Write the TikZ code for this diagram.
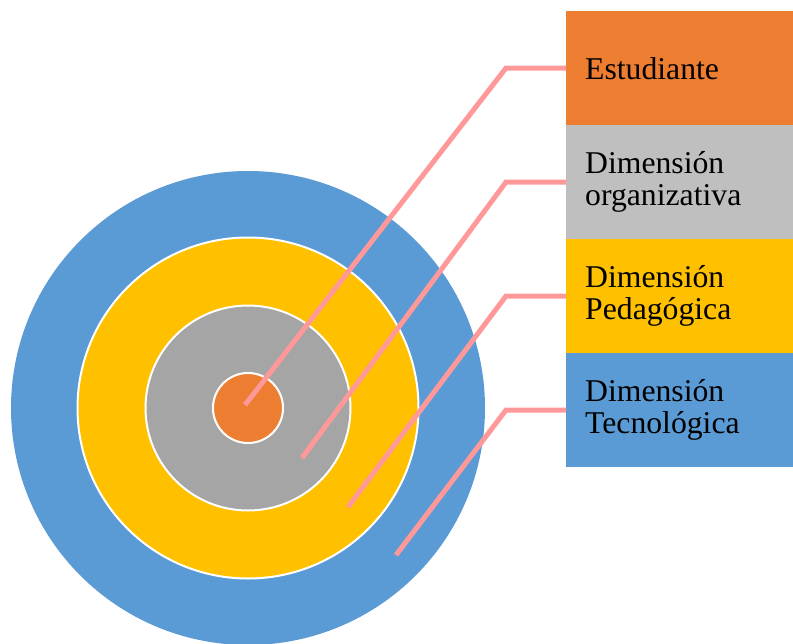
\documentclass[tikz,border=0pt]{standalone}
\usepackage{fontspec}
\setmainfont{Liberation Serif}
\definecolor{cblue}{HTML}{5B9BD5}
\definecolor{cyellow}{HTML}{FFC000}
\definecolor{cgray}{HTML}{A5A5A5}
\definecolor{cgraybox}{HTML}{BFBFBF}
\definecolor{corange}{HTML}{ED7D31}
\definecolor{cpink}{HTML}{FF9999}
\tikzset{
  ring/.style={circle, draw=white, line width=2pt, inner sep=0pt},
  labelbox/.style={rectangle, draw=none, minimum width=227pt, minimum height=114pt,
    text width=189pt, inner xsep=19pt, inner ysep=0pt, align=left,
    font=\fontsize{31.7}{32}\selectfont},
  leader/.style={draw=cpink, line width=5pt, line join=miter}
}
\begin{document}
\begin{tikzpicture}[x=1pt,y=-1pt]
\useasboundingbox (0,0) rectangle (793,643);
\node[ring, fill=cblue, draw=none, minimum size=474pt] (c4) at (248,408) {};
\node[ring, fill=cyellow, minimum size=341pt] (c3) at (248,408) {};
\node[ring, fill=cgray, minimum size=205pt] (c2) at (248,408) {};
\node[ring, fill=corange, minimum size=70pt] (c1) at (248,408) {};

\node[labelbox, fill=corange, anchor=north west] (b1) at (566,11) {Estudiante};
\node[labelbox, fill=cgraybox, anchor=north west] (b2) at (566,125) {Dimensión\\organizativa};
\node[labelbox, fill=cyellow, anchor=north west] (b3) at (566,239) {Dimensión\\Pedagógica};
\node[labelbox, fill=cblue, anchor=north west] (b4) at (566,353) {Dimensión\\Tecnológica};

\coordinate (e1) at (245,405);
\coordinate (e2) at (302,458);
\coordinate (e3) at (348,507);
\coordinate (e4) at (396,555);

\draw[leader] (e1) -- (506,68) -- (b1.west);
\draw[leader] (e2) -- (506,182) -- (b2.west);
\draw[leader] (e3) -- (506,296) -- (b3.west);
\draw[leader] (e4) -- (506,410) -- (b4.west);
\end{tikzpicture}
\end{document}
